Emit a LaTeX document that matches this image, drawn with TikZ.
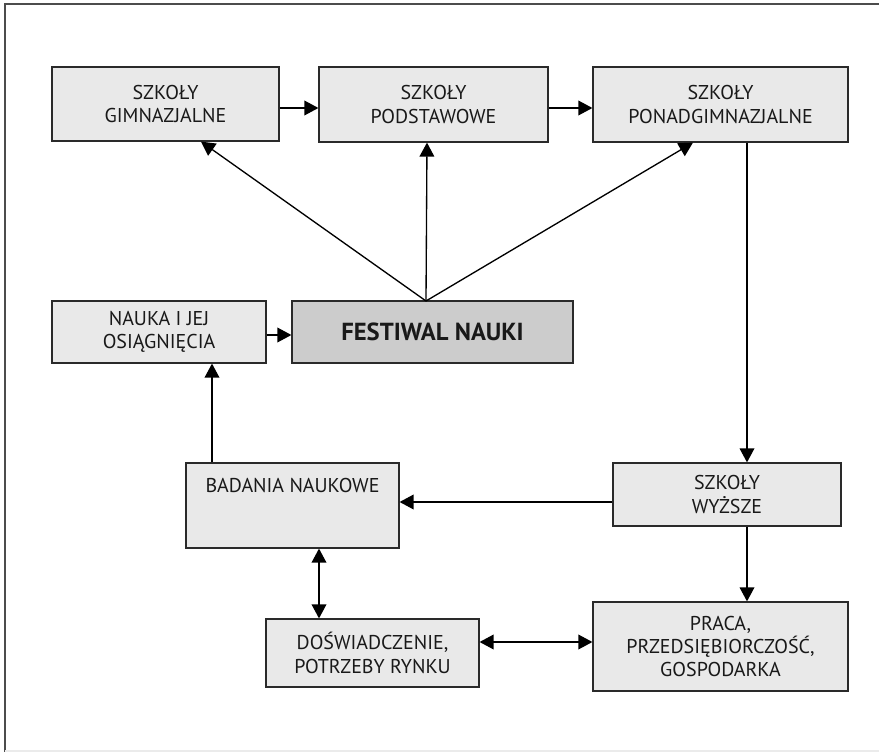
\documentclass[tikz,border=0pt]{standalone}
\usepackage{fontspec}
\setmainfont{PT Sans}
\usetikzlibrary{arrows.meta}
\definecolor{boxfill}{HTML}{E9E9E9}
\definecolor{festfill}{HTML}{CCCCCC}
\definecolor{boxline}{HTML}{2A2A2A}
\begin{document}
\begin{tikzpicture}[x=0.75pt,y=-0.75pt,
  box/.style={draw=boxline,fill=boxfill,line width=0.9pt,inner sep=0pt,align=center,
    font=\fontsize{15}{17.5}\selectfont,text=black!90},
  bw/.style={minimum width={#1*0.75pt}},
  bh/.style={minimum height={#1*0.75pt}},
  arr/.style={line width=1pt,-{Triangle[length=10.5pt,width=11pt]}},
  darr/.style={line width=1pt,{Triangle[length=10.5pt,width=11pt]}-{Triangle[length=10.5pt,width=11pt]}}]
\useasboundingbox (0,0) rectangle (879,752);
% frame
\draw[line width=1.6pt,draw=black!70] (5,752) -- (5,4) -- (879,4);
\draw[line width=0.8pt,draw=black!8] (5,751) -- (879,751);
% nodes
\node[box,bw=227,bh=74] (gim) at (165.5,104) {SZKOŁY\\GIMNAZJALNE};
\node[box,bw=229,bh=75] (pod) at (433.5,104.5) {SZKOŁY\\PODSTAWOWE};
\node[box,bw=255,bh=75] (pon) at (720.5,104.5) {SZKOŁY\\PONADGIMNAZJALNE};
\node[box,bw=214,bh=62] (nau) at (159,332) {NAUKA I JEJ\\OSIĄGNIĘCIA};
\node[box,fill=festfill,bw=281,bh=62,font=\fontsize{18.5}{21}\selectfont\bfseries] (fest) at (432.5,332) {FESTIWAL NAUKI};
\node[box,bw=213,bh=85,
  label={[anchor=north,font=\fontsize{15}{17.5}\selectfont,text=black!90,yshift=-8pt]north:BADANIA NAUKOWE}] (bad) at (292.5,505.5) {};
\node[box,bw=228,bh=63] (wyz) at (727,494.5) {SZKOŁY\\WYŻSZE};
\node[box,bw=213,bh=68] (dos) at (372.5,653) {DOŚWIADCZENIE,\\POTRZEBY RYNKU};
\node[box,bw=255,bh=89] (pra) at (720.5,646.5) {PRACA,\\PRZEDSIĘBIORCZOŚĆ,\\GOSPODARKA};
% helper coordinates
\coordinate (ytop) at (0,108);
\coordinate (apex) at (426,301);
\coordinate (xg) at (201,0);
\coordinate (xp) at (427,0);
\coordinate (xo) at (693,0);
\coordinate (xv) at (747,0);
\coordinate (yw) at (0,502);
\coordinate (xn) at (212,0);
\coordinate (yn) at (0,335);
\coordinate (xb) at (319,0);
\coordinate (yd) at (0,642);
% connectors
\draw[arr] (gim.east |- ytop) -- (pod.west |- ytop);
\draw[arr] (pod.east |- ytop) -- (pon.west |- ytop);
\draw[arr] (apex) -- (gim.south -| xg);
\draw[arr] (apex) -- (pod.south -| xp);
\draw[arr] (apex) -- (pon.south -| xo);
\draw[arr] (pon.south -| xv) -- (wyz.north -| xv);
\draw[arr] (wyz.south -| xv) -- (pra.north -| xv);
\draw[arr] (wyz.west |- yw) -- (bad.east |- yw);
\draw[arr] (bad.north -| xn) -- (nau.south -| xn);
\draw[arr] (nau.east |- yn) -- (fest.west |- yn);
\draw[darr] (bad.south -| xb) -- (dos.north -| xb);
\draw[darr] (dos.east |- yd) -- (pra.west |- yd);
\end{tikzpicture}
\end{document}
